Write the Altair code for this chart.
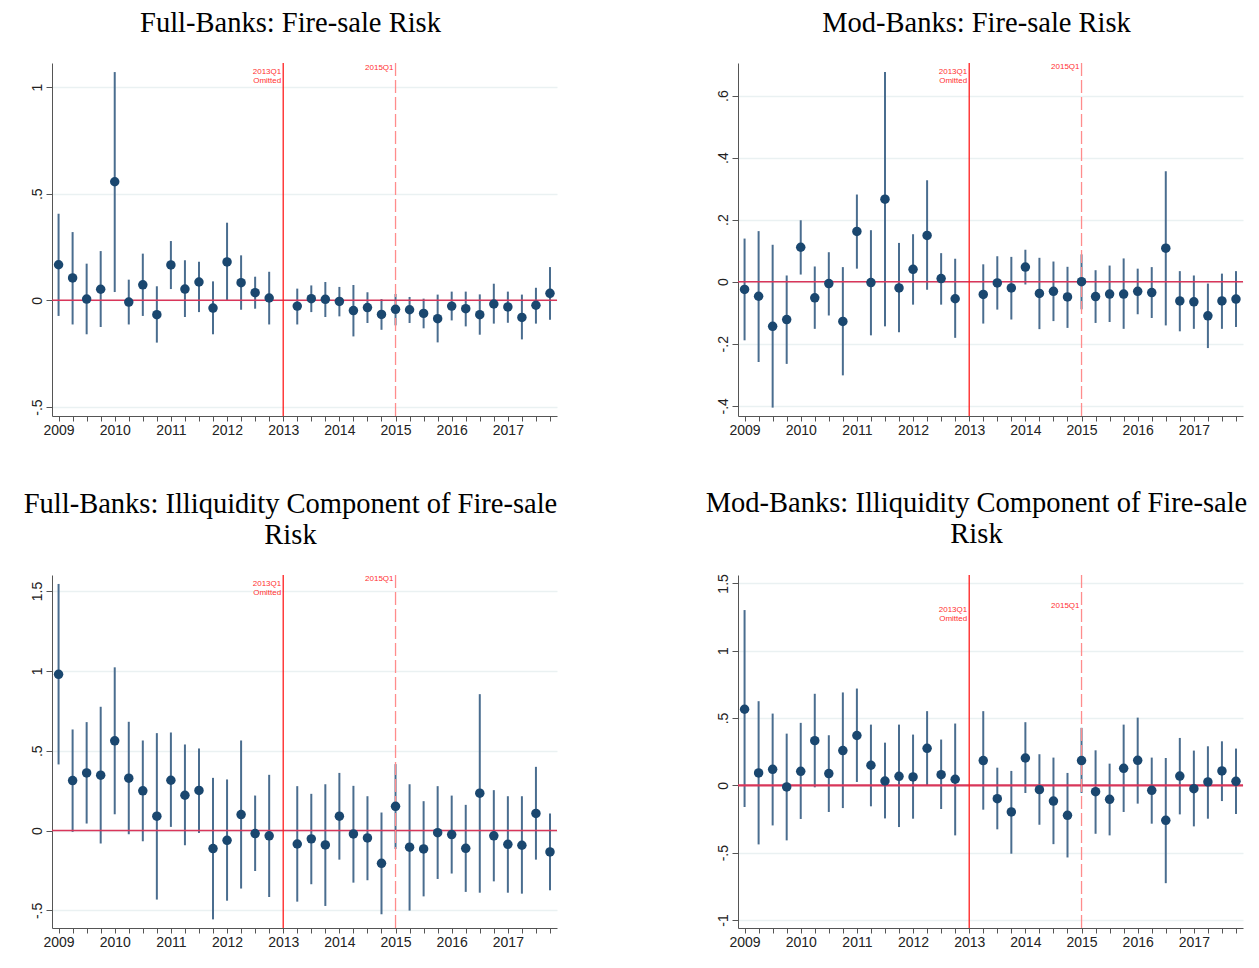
import altair as alt
import pandas as pd

# ---- categories ----
quarters = [f"{y}Q{q}" for y in range(2009, 2018) for q in range(1, 5) if not (y == 2013 and q == 1)]

# ---- Panel 1: Full-Banks: Fire-sale Risk ----
p1_coef = [0.167, 0.105, 0.006, 0.052, 0.556, -0.008, 0.073, -0.067, 0.166, 0.053, 0.086, -0.036, 0.180, 0.083, 0.036, 0.011,
           -0.027, 0.008, 0.005, -0.005, -0.048, -0.034, -0.066, -0.042, -0.044, -0.061, -0.086, -0.027, -0.039, -0.067, -0.017, -0.031, -0.080, -0.023, 0.033]
p1_lo = [-0.073, -0.113, -0.159, -0.125, 0.039, -0.113, -0.073, -0.198, 0.053, -0.078, -0.055, -0.159, 0.000, -0.044, -0.039, -0.113,
         -0.113, -0.055, -0.078, -0.075, -0.169, -0.106, -0.138, -0.117, -0.106, -0.131, -0.197, -0.094, -0.122, -0.161, -0.109, -0.105, -0.183, -0.109, -0.091]
p1_hi = [0.406, 0.320, 0.172, 0.231, 1.070, 0.097, 0.219, 0.066, 0.278, 0.188, 0.181, 0.089, 0.364, 0.211, 0.111, 0.134,
         0.055, 0.070, 0.086, 0.063, 0.072, 0.038, 0.006, 0.030, 0.016, 0.008, 0.027, 0.041, 0.041, 0.028, 0.078, 0.041, 0.027, 0.059, 0.156]

# ---- Panel 2: Mod-Banks: Fire-sale Risk ----
p2_coef = [-0.025, -0.047, -0.144, -0.122, 0.111, -0.052, -0.006, -0.128, 0.162, -0.003, 0.266, -0.020, 0.040, 0.149, 0.010, -0.055,
           -0.041, -0.004, -0.020, 0.047, -0.038, -0.031, -0.049, 0.000, -0.048, -0.040, -0.040, -0.031, -0.035, 0.108, -0.062, -0.065, -0.110, -0.062, -0.056]
p2_lo = [-0.189, -0.259, -0.406, -0.265, 0.023, -0.152, -0.109, -0.302, 0.042, -0.173, -0.144, -0.163, -0.074, -0.026, -0.074, -0.181,
         -0.135, -0.090, -0.122, -0.009, -0.153, -0.127, -0.149, -0.089, -0.133, -0.130, -0.152, -0.105, -0.117, -0.141, -0.160, -0.152, -0.214, -0.152, -0.146]
p2_hi = [0.139, 0.163, 0.119, 0.020, 0.198, 0.049, 0.095, 0.047, 0.281, 0.166, 0.676, 0.125, 0.153, 0.327, 0.092, 0.074,
         0.056, 0.082, 0.080, 0.103, 0.077, 0.065, 0.048, 0.088, 0.037, 0.052, 0.075, 0.042, 0.047, 0.356, 0.034, 0.020, -0.006, 0.026, 0.034]

# ---- Panel 3: Full-Banks: Illiquidity Component ----
p3_coef = [0.978, 0.313, 0.361, 0.347, 0.562, 0.328, 0.249, 0.090, 0.315, 0.221, 0.251, -0.113, -0.061, 0.100, -0.019, -0.033,
           -0.084, -0.052, -0.090, 0.090, -0.021, -0.046, -0.205, 0.152, -0.104, -0.115, -0.013, -0.025, -0.111, 0.234, -0.033, -0.086, -0.092, 0.107, -0.134]
p3_lo = [0.414, -0.008, 0.044, -0.081, 0.102, -0.023, -0.067, -0.432, 0.023, -0.092, -0.015, -0.556, -0.439, -0.363, -0.253, -0.416,
         -0.445, -0.336, -0.472, -0.182, -0.326, -0.311, -0.524, -0.115, -0.501, -0.412, -0.303, -0.269, -0.384, -0.389, -0.318, -0.389, -0.395, -0.182, -0.374]
p3_hi = [1.544, 0.633, 0.679, 0.775, 1.022, 0.681, 0.564, 0.610, 0.614, 0.539, 0.514, 0.330, 0.320, 0.564, 0.219, 0.349,
         0.278, 0.230, 0.290, 0.361, 0.280, 0.215, 0.113, 0.416, 0.290, 0.184, 0.278, 0.219, 0.161, 0.854, 0.253, 0.215, 0.215, 0.399, 0.107]

# ---- Panel 4: Mod-Banks: Illiquidity Component ----
p4_coef = [0.565, 0.092, 0.119, -0.012, 0.104, 0.332, 0.087, 0.258, 0.370, 0.149, 0.032, 0.067, 0.062, 0.275, 0.079, 0.045,
           0.184, -0.099, -0.198, 0.203, -0.032, -0.117, -0.223, 0.184, -0.047, -0.104, 0.126, 0.186, -0.037, -0.260, 0.069, -0.025, 0.025, 0.107, 0.030]
p4_lo = [-0.161, -0.439, -0.298, -0.409, -0.250, -0.015, -0.198, -0.169, 0.025, -0.156, -0.246, -0.310, -0.248, 0.000, -0.176, -0.372,
         -0.181, -0.327, -0.508, -0.057, -0.293, -0.437, -0.536, -0.057, -0.360, -0.372, -0.198, -0.136, -0.285, -0.727, -0.216, -0.305, -0.248, -0.117, -0.213]
p4_hi = [1.302, 0.625, 0.533, 0.384, 0.464, 0.680, 0.372, 0.690, 0.719, 0.451, 0.317, 0.451, 0.377, 0.551, 0.340, 0.459,
         0.551, 0.131, 0.107, 0.469, 0.231, 0.206, 0.092, 0.427, 0.260, 0.161, 0.451, 0.503, 0.206, 0.203, 0.352, 0.258, 0.290, 0.327, 0.273]

titles = [
    ["Full-Banks: Fire-sale Risk"],
    ["Mod-Banks: Fire-sale Risk"],
    ["Full-Banks: Illiquidity Component of Fire-sale", "Risk"],
    ["Mod-Banks: Illiquidity Component of Fire-sale", "Risk"],
]
y_domains = [[-0.542, 1.1125], [-0.433, 0.705], [-0.61, 1.60], [-1.06, 1.5625]]
y_ticks = [[-0.5, 0, 0.5, 1], [-0.4, -0.2, 0, 0.2, 0.4, 0.6], [-0.5, 0, 0.5, 1, 1.5], [-1, -0.5, 0, 0.5, 1, 1.5]]
event_omitted = "2013Q1"
event_reform = "2015Q1"

NAVY = "#1A476F"
CI = "#4A6D8F"
ZERO = "#D9365A"
RED = "#FF1F1F"
PINK = "#FF8C8C"


def qnum(s):
    return int(s[:4]) + (int(s[5]) - 1) / 4.0


all_q = [f"{y}Q{q}" for y in range(2009, 2018) for q in range(1, 5)]
x_vals = [qnum(s) for s in all_q]

W, H = 505, 353


def panel(i, coef, lo, hi):
    df = pd.DataFrame({"q": quarters, "coef": coef, "lo": lo, "hi": hi})
    df["t"] = df["q"].map(qnum)
    xscale = alt.Scale(domain=[2008.883, 2017.875], nice=False, zero=False)
    yscale = alt.Scale(domain=y_domains[i], nice=False, zero=False)
    xaxis = alt.Axis(
        values=x_vals, title=None, grid=False,
        labelExpr="datum.value % 1 === 0 ? format(datum.value, 'd') : ''",
        labelOverlap=False, labelFlush=False, tickSize=5, tickColor="#555555",
        domainColor="#555555", labelFont="Liberation Sans", labelFontSize=14,
        labelColor="#222222", labelPadding=2,
    )
    yaxis = alt.Axis(
        values=y_ticks[i], title=None, grid=True, gridColor="#EAF1F2", gridWidth=1.5,
        labelExpr="replace(replace(format(datum.value, '~g'), '\u2212', '-'), '0.', '.')",
        labelAngle=270, labelAlign="center", labelBaseline="alphabetic",
        labelOverlap=False, labelFlush=False, tickSize=6, tickColor="#555555",
        domainColor="#555555", labelFont="Liberation Sans", labelFontSize=14,
        labelColor="#222222", labelPadding=5,
    )
    X = alt.X("t:Q", scale=xscale, axis=xaxis)
    base = alt.Chart(df)
    ci = base.mark_rule(color=CI, strokeWidth=2).encode(
        x=X, y=alt.Y("lo:Q", scale=yscale, axis=yaxis), y2="hi:Q")
    zero = alt.Chart(pd.DataFrame({"v": [0.0]})).mark_rule(
        color=ZERO, strokeWidth=2.2 if i == 3 else 1.5).encode(y=alt.Y("v:Q", scale=yscale, axis=yaxis))
    ev = pd.DataFrame({"q": [event_omitted, event_reform]})
    ev["t"] = ev["q"].map(qnum)
    v1 = alt.Chart(ev.iloc[[0]]).mark_rule(color=RED, strokeWidth=1.3).encode(
        x=alt.X("t:Q", scale=xscale, axis=xaxis))
    v2 = alt.Chart(ev.iloc[[1]]).mark_rule(color=PINK, strokeWidth=1.3, strokeDash=[13, 4]).encode(
        x=alt.X("t:Q", scale=xscale, axis=xaxis))
    pts = base.mark_circle(size=90, color=NAVY, opacity=1).encode(
        x=X, y=alt.Y("coef:Q", scale=yscale, axis=yaxis))
    top = max(hi)
    ann = pd.DataFrame({"t": [qnum(event_omitted), qnum(event_reform)], "y": [top, top],
                        "label": [event_omitted + "\nOmitted", event_reform]})
    t1 = alt.Chart(ann.iloc[[0]]).mark_text(
        align="right", baseline="middle", dx=-2, fontSize=8, lineHeight=9,
        font="Liberation Sans", color="#FF3030", lineBreak="\n").encode(
        x=alt.X("t:Q", scale=xscale, axis=xaxis), y=alt.Y("y:Q", scale=yscale, axis=yaxis), text="label:N")
    t2 = alt.Chart(ann.iloc[[1]]).mark_text(
        align="right", baseline="middle", dx=-2, dy=-4.5, fontSize=8,
        font="Liberation Sans", color="#FF3030").encode(
        x=alt.X("t:Q", scale=xscale, axis=xaxis), y=alt.Y("y:Q", scale=yscale, axis=yaxis), text="label:N")
    return alt.layer(ci, zero, v1, v2, pts, t1, t2).properties(
        width=W, height=H,
        title=alt.TitleParams(text=titles[i], font="Liberation Serif", fontSize=28.5,
                              fontWeight="normal", color="black", anchor="middle",
                              dx=-14, offset=25, lineHeight=31),
    )


panels = [
    panel(0, p1_coef, p1_lo, p1_hi),
    panel(1, p2_coef, p2_lo, p2_hi),
    panel(2, p3_coef, p3_lo, p3_hi),
    panel(3, p4_coef, p4_lo, p4_hi),
]

chart = alt.concat(*panels, columns=2, spacing={"row": 159, "column": 181}, bounds="flush").properties(
    padding={"left": 15, "top": 0, "right": 0, "bottom": 0}, background="white"
).configure_view(stroke=None)

chart.save("out.html", embed_options={"renderer": "svg", "actions": False})
